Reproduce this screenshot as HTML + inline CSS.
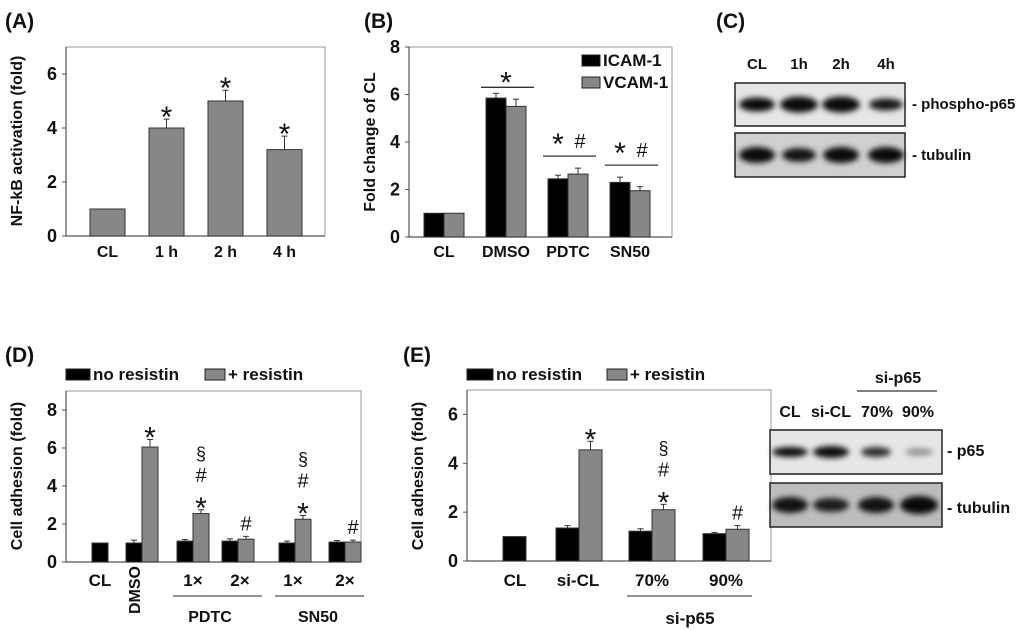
<!DOCTYPE html>
<html><head><meta charset="utf-8"><style>
html,body{margin:0;padding:0;background:#fff;}
svg{display:block;font-family:"Liberation Sans",sans-serif;font-weight:bold;}
</style></head><body>
<svg id="fig" width="1024" height="630" viewBox="0 0 1024 630">
<defs>
<filter id="blur" x="-30%" y="-80%" width="160%" height="260%"><feGaussianBlur stdDeviation="3"/></filter>
<filter id="blur2" x="-30%" y="-80%" width="160%" height="260%"><feGaussianBlur stdDeviation="6"/></filter>
</defs>
<g id="root"></g>
</svg>
<script>
// ---------- Panel A data ----------
const aCategories = ["CL","1 h","2 h","4 h"];
const aValues = [1, 4, 5, 3.2];
const aErrors = [0, 0.33, 0.4, 0.5];
const aMarks = ["","*","*","*"];
const aTicks = [0,2,4,6];
// ---------- Panel B data ----------
const bCategories = ["CL","DMSO","PDTC","SN50"];
const bIcam = [1, 5.85, 2.45, 2.3];
const bIcamErr = [0, 0.2, 0.15, 0.22];
const bVcam = [1, 5.5, 2.65, 1.95];
const bVcamErr = [0, 0.3, 0.25, 0.17];
const bTicks = [0,2,4,6,8];
// ---------- Panel D data ----------
const dCategories = ["CL","DMSO","1×","2×","1×","2×"];
const dNoRes = [1, 1, 1.1, 1.1, 1.0, 1.05];
const dNoResErr = [0, 0.15, 0.08, 0.12, 0.1, 0.08];
const dRes = [null, 6.05, 2.55, 1.2, 2.25, 1.05];
const dResErr = [0, 0.4, 0.2, 0.15, 0.2, 0.1];
const dMarks = [[],["*"],["*","#","§"],["#"],["*","#","§"],["#"]];
const dTicks = [0,2,4,6,8];
// ---------- Panel E data ----------
const eCategories = ["CL","si-CL","70%","90%"];
const eNoRes = [1, 1.35, 1.22, 1.12];
const eNoResErr = [0, 0.1, 0.1, 0.05];
const eRes = [null, 4.55, 2.1, 1.3];
const eResErr = [0, 0.35, 0.22, 0.15];
const eMarks = [[],["*"],["*","#","§"],["#"]];
const eTicks = [0,2,4,6];

const NS="http://www.w3.org/2000/svg";
const root=document.getElementById('root');
function el(tag,attrs,parent,text){const e=document.createElementNS(NS,tag);for(const k in attrs)e.setAttribute(k,attrs[k]);if(text!==undefined)e.textContent=text;(parent||root).appendChild(e);return e;}
function txt(x,y,s,size,anchor,parent,extra){const t=el('text',Object.assign({x:x,y:y,'font-size':size,'text-anchor':anchor||'middle',fill:'#111'},extra||{}),parent,s);return t;}

function frame(g,x0,x1,yTop,yBot){
  const r=el('rect',{x:x0,y:yTop,width:x1-x0,height:yBot-yTop,fill:'none',stroke:'#999','stroke-width':1},g);
  
  
  el('line',{x1:x0,y1:yTop,x2:x0,y2:yBot,stroke:'#555','stroke-width':1.2},g);
  el('line',{x1:x0,y1:yBot,x2:x1,y2:yBot,stroke:'#555','stroke-width':1.2},g);
}
function yAxis(g,x0,ticks,yScale){
  ticks.forEach(t=>{
    el('line',{x1:x0-4,y1:yScale(t),x2:x0,y2:yScale(t),stroke:'#555'},g);
    const l=txt(x0-9,yScale(t)+6,String(t),18,'end',g);
    
    
  });
}
function bar(g,x,w,v,err,yScale,fill,name){
  if(v===null)return;
  const r=el('rect',{x:x,y:yScale(v),width:w,height:yScale(0)-yScale(v),fill:fill,stroke:'#333','stroke-width':1},g);
  
  
  if(err>0){
    const cx=x+w/2;
    el('line',{x1:cx,y1:yScale(v),x2:cx,y2:yScale(v+err),stroke:'#333'},g);
    el('line',{x1:cx-3,y1:yScale(v+err),x2:cx+3,y2:yScale(v+err),stroke:'#333'},g);
  }
}
function marks(g,cx,top,list){
  list.forEach((m,i)=>{
    const y=top-6-i*22;
    const s=m==="*"?txt(cx,y+14,m,30,'middle',g,{'font-weight':'normal'}):txt(cx,y,m,m==="§"?18:20,'middle',g,{'font-weight':'normal'});
    
    
  });
}
function ylabel(g,x,y,s){
  const t=txt(x,y,s,16,'middle',g,{transform:`rotate(-90 ${x} ${y})`});
  
  
}
function panelLabel(x,y,s){const t=txt(x,y,s,21,'start');}
function legend(g,x,y,w,fill,s){
  const r=el('rect',{x:x,y:y-11,width:w,height:11,fill:fill,stroke:'#222'},g);
  
  
  const t=txt(x+w+3,y,s,17,'start',g);
  
  
}

// ===== Panel A =====
panelLabel(5,28,"(A)");
(function(){
  const g=el('g',{});
  const yTop=47,yBot=236,yMax=7;
  const y=v=>yBot-(yBot-yTop)*v/yMax;
  const xC=i=>107.5+59*i;
  frame(g,66,325,yTop,yBot);
  yAxis(g,66,aTicks,y);
  aCategories.forEach((c,i)=>{
    bar(g,xC(i)-17.5,35,aValues[i],aErrors[i],y,'#878787','bar-'+i);
    if(aMarks[i])marks(g,xC(i),y(aValues[i]+aErrors[i]),[aMarks[i]]);
    const l=txt(xC(i),257,c,16,'middle',g);
  });
  ylabel(g,22,141,"NF-kB activation (fold)");
})();

// ===== Panel B =====
panelLabel(364,28,"(B)");
(function(){
  const g=el('g',{});
  const yTop=47,yBot=237,yMax=8;
  const y=v=>yBot-(yBot-yTop)*v/yMax;
  const xC=i=>444+62*i;
  frame(g,409,672,yTop,yBot);
  yAxis(g,409,bTicks,y);
  bCategories.forEach((c,i)=>{
    bar(g,xC(i)-20,20,bIcam[i],bIcamErr[i],y,'#000','icam-bar-'+i);
    bar(g,xC(i),20,bVcam[i],bVcamErr[i],y,'#878787','vcam-bar-'+i);
    const l=txt(xC(i),257,c,16,'middle',g);
    if(i>0){
      const top=Math.max(bIcam[i]+bIcamErr[i],bVcam[i]+bVcamErr[i]);
      const ly=y(top)-(i===1?6:12);
      el('line',{x1:xC(i)-25,y1:ly,x2:xC(i)+28,y2:ly,stroke:'#333','stroke-width':1.3},g);
      if(i===1){marks(g,xC(i),ly-3,["*"]);}
      else{txt(xC(i)-10,ly-2,"*",30,'middle',g,{'font-weight':'normal'});txt(xC(i)+12,ly-8,"#",20,'middle',g,{'font-weight':'normal'});}
    }
  });
  legend(g,582,66,18,'#000',"ICAM-1");
  legend(g,582,88,18,'#878787',"VCAM-1");
  ylabel(g,375,142,"Fold change of CL");
})();

// ===== Blot helper =====
function blot(x,y,w,h,bands,name,bg){
  const g=el('g',{});
  el('rect',{x:x,y:y,width:w,height:h,fill:bg||'#e6e6e6'},g);
  bands.forEach(b=>{
    el('ellipse',{cx:b[0],cy:y+h/2,rx:b[1],ry:b[2],fill:'#000','fill-opacity':b[3],filter:'url(#blur)'},g);
  });
  el('rect',{x:x,y:y,width:w,height:h,fill:'none',stroke:'#222','stroke-width':1.5},g);
  return g;
}
// ===== Panel C =====
panelLabel(716,28,"(C)");
["CL","1h","2h","4h"].forEach((s,i)=>{const t=txt([757,799,841,886][i],69,s,15,'middle');});
blot(735,83,170,43,[[757,18,7,0.95],[799,19,8,0.95],[841,19,8,0.95],[886,17,6,0.9]],'phospho-p65-blot');
blot(735,133,170,44,[[757,18,8,0.95],[799,17,7,0.9],[841,18,8,0.95],[886,18,8,0.95]],'tubulin-blot-c','#d0d0d0');
txt(912,109,"- phospho-p65",15,'start');
txt(912,160,"- tubulin",15,'start');

// ===== Grouped panel helper =====
function grouped(g,yTop,yBot,yMax,xBlack,xGray,w,black,blackErr,gray,grayErr,mk){
  const y=v=>yBot-(yBot-yTop)*v/yMax;
  black.forEach((v,i)=>{
    bar(g,xBlack(i),w,v,blackErr[i],y,'#000','no-resistin-bar-'+i);
    bar(g,xGray(i),w,gray[i],grayErr[i],y,'#878787','resistin-bar-'+i);
    if(gray[i]!==null)marks(g,xGray(i)+w/2,y(gray[i]+grayErr[i]),mk[i]);
  });
  return y;
}

// ===== Panel D =====
panelLabel(5,362,"(D)");
(function(){
  const g=el('g',{});
  legend(g,66,380,24,'#000',"no resistin");
  legend(g,205,380,20,'#878787',"+ resistin");
  const yTop=391,yBot=562,yMax=9;
  frame(g,66,361,yTop,yBot);
  const starts=[92,126,177,222,279,329];
  const y=grouped(g,yTop,yBot,yMax,i=>starts[i],i=>starts[i]+16,16,dNoRes,dNoResErr,dRes,dResErr,dMarks);
  yAxis(g,66,dTicks,y);
  const lx=[100,134,193,240,293,345];
  dCategories.forEach((c,i)=>{
    let t;
    if(i===1)t=txt(lx[i],590,c,16,'middle',g,{transform:`rotate(-90 ${lx[i]} 590)`,dy:'6'});
    else t=txt(lx[i],586,c,17,'middle',g);
    
  });
  el('line',{x1:173,y1:596,x2:262,y2:596,stroke:'#555','stroke-width':1.3},g);
  el('line',{x1:275,y1:596,x2:364,y2:596,stroke:'#555','stroke-width':1.3},g);
  txt(210,622,"PDTC",16,'middle',g);
  txt(318,622,"SN50",16,'middle',g);
  ylabel(g,22,476,"Cell adhesion (fold)");
})();

// ===== Panel E =====
panelLabel(403,362,"(E)");
(function(){
  const g=el('g',{});
  legend(g,467,380,26,'#000',"no resistin");
  legend(g,607,380,20,'#878787',"+ resistin");
  const yTop=390,yBot=561,yMax=7;
  frame(g,467,771,yTop,yBot);
  const starts=[503,556,629,703];
  const y=grouped(g,yTop,yBot,yMax,i=>starts[i],i=>starts[i]+23,23,eNoRes,eNoResErr,eRes,eResErr,eMarks);
  yAxis(g,467,eTicks,y);
  const lx=[515,578,652,726];
  eCategories.forEach((c,i)=>{const t=txt(lx[i],586,c,17,'middle',g);});
  el('line',{x1:627,y1:596,x2:752,y2:596,stroke:'#555','stroke-width':1.3},g);
  txt(690,624,"si-p65",17,'middle',g);
  ylabel(g,423,476,"Cell adhesion (fold)");
})();

// ===== E blot =====
txt(898,383,"si-p65",16,'middle');
el('line',{x1:857,y1:391,x2:937,y2:391,stroke:'#555','stroke-width':1.5});
["CL","si-CL","70%","90%"].forEach((s,i)=>{const t=txt([790,831,877,918][i],417,s,16,'middle');});
blot(770,430,172,44,[[790,18,5,0.95],[831,18,6,0.95],[876,15,5,0.8],[919,14,4,0.35]],'p65-blot');
blot(770,483,172,44,[[790,18,8,0.9],[831,18,7,0.85],[876,18,8,0.9],[919,19,9,0.95]],'tubulin-blot-e','#bdbdbd');
txt(947,456,"- p65",16,'start');
txt(947,513,"- tubulin",16,'start');
</script>
</body></html>
